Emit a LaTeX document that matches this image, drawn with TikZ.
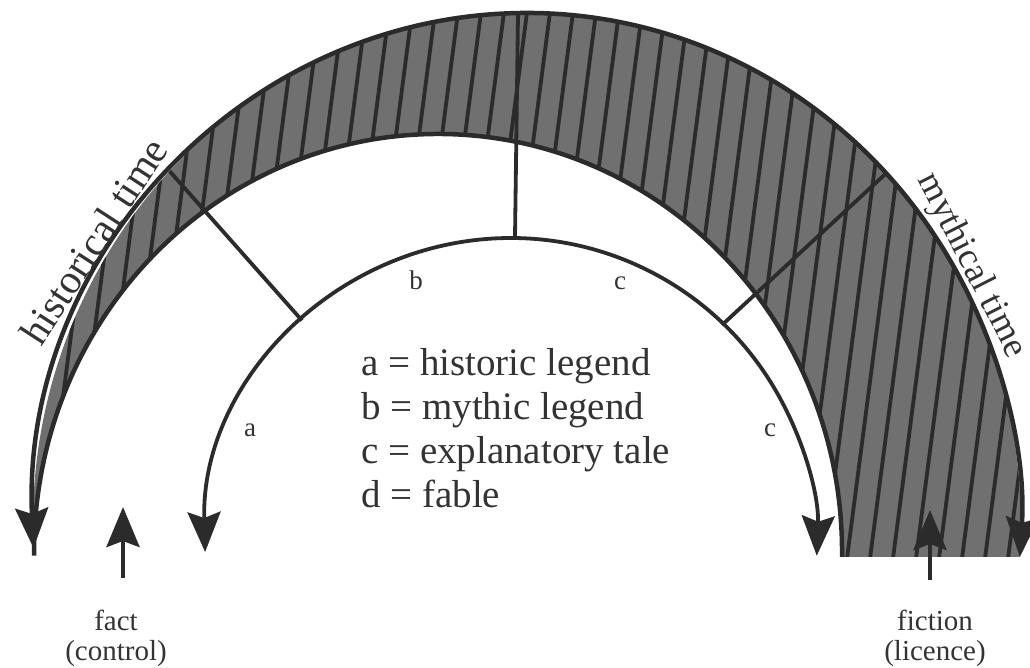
\documentclass[tikz,border=0pt]{standalone}
\usepackage{fontspec}
\setmainfont{Liberation Serif}
\usetikzlibrary{arrows.meta}
\definecolor{ink}{HTML}{2B2B2B}
\definecolor{bandgray}{HTML}{707070}
\definecolor{txt}{HTML}{333333}
\begin{document}
\begin{tikzpicture}[x=1pt,y=1pt,
  >={Stealth[length=40pt,width=33pt,inset=6pt]},
  edgeline/.style={draw=ink,line width=4.5pt},
  thinline/.style={draw=ink,line width=3.8pt},
  hatchline/.style={draw=ink,line width=3.8pt},
  lbl/.style={text=txt,inner sep=0pt,font=\fontsize{27}{30}\selectfont},
  keytext/.style={text=txt,inner sep=0pt,align=left,font=\fontsize{39}{44}\selectfont},
  foot/.style={text=txt,inner sep=0pt,align=center,font=\fontsize{29}{29.5}\selectfont},
  timetext/.style={text=txt,inner sep=0pt}]
\useasboundingbox (0,0) rectangle (1030,668);
% band fill
\fill[bandgray] (33.5,120) arc[start angle=182.7,end angle=-3.7,x radius=494,y radius=511]
  -- (842,111) arc[start angle=-0.69,end angle=180.5,x radius=404,y radius=418] -- cycle;
% hatching
\begin{scope}
\clip (33.5,120) arc[start angle=182.7,end angle=-3.7,x radius=494,y radius=511]
  -- (842,111) arc[start angle=-0.69,end angle=180.5,x radius=404,y radius=418] -- cycle;
\foreach \i in {-22,...,27} {
  \draw[hatchline] ({427.6+23*\i},68) -- ({505.6+23*\i},668);
}
\end{scope}
% band outlines
\draw[edgeline] (842,111) arc[start angle=-0.69,end angle=180.5,x radius=404,y radius=418];
\draw[edgeline,<->] (33.5,120) arc[start angle=182.7,end angle=-3.7,x radius=494,y radius=511];
% inner a-b-c arc
\draw[thinline,<->] (205.1,116) arc[start angle=181.5,end angle=-2.2,radius=306];
% dividers
\coordinate (d1a) at (302,347.5);
\coordinate (d1b) at (157,511);
\coordinate (d2a) at (515,431);
\coordinate (d2b) at (518.2,668);
\coordinate (d3a) at (722,343);
\coordinate (d3b) at (900,507.5);
\begin{scope}
\clip (527,144) ellipse[x radius=494,y radius=511];
\draw[thinline] (d1a) -- (d1b);
\draw[thinline] (d2a) -- (d2b);
\draw[thinline] (d3a) -- (d3b);
\end{scope}
% fact / fiction arrows
\coordinate (fa0) at (123,90);
\coordinate (fa1) at (123,161);
\coordinate (fi0) at (930,88);
\coordinate (fi1) at (930,158);
\draw[edgeline,->] (fa0) -- (fa1);
\draw[edgeline,->] (fi0) -- (fi1);
% labels
\node[lbl,anchor=base] (lb) at (416,378) {b};
\node[lbl,anchor=base] (lc1) at (620,378) {c};
\node[lbl,anchor=base] (la) at (250,231) {a};
\node[lbl,anchor=base] (lc2) at (770,231) {c};
\node[keytext,anchor=north west] (key) at (361,320) {a = historic legend\\b = mythic legend\\c = explanatory tale\\d = fable};
\node[foot,anchor=north] (fact) at (116,58) {fact\\(control)};
\node[foot,anchor=north] (fiction) at (935,58) {fiction\\(licence)};
\node[timetext,font=\fontsize{41}{44}\selectfont,rotate=57] (ht) at (93.5,427) {historical time};
\node[timetext,font=\fontsize{36.5}{39}\selectfont,rotate=-63] (mt) at (971.3,402.3) {mythical time};
\end{tikzpicture}
\end{document}
